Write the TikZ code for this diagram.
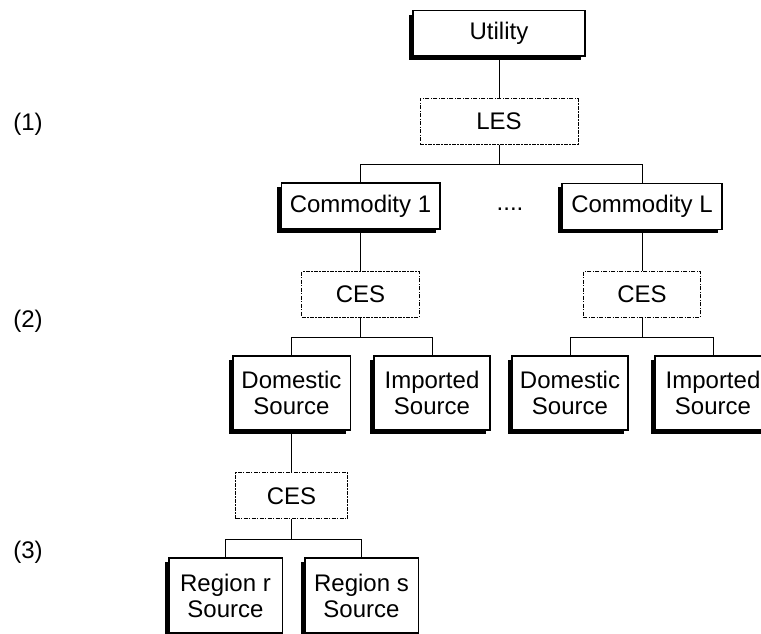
\documentclass[tikz,border=0pt]{standalone}
\usepackage{fontspec}
\setmainfont{Liberation Sans}
\usetikzlibrary{shadows}

\tikzset{
  solidbox/.style={draw, fill=white, line width=1pt, inner sep=0pt, align=center,
    drop shadow={shadow xshift=-3pt, shadow yshift=-3pt, fill=black, opacity=1}},
  cesbox/.style={draw, fill=white, line width=0.75pt, inner sep=0pt, align=center,
    dash pattern=on 3pt off 1pt on 1pt off 1pt},
  link/.style={line width=0.75pt}
}

\begin{document}
\begin{tikzpicture}[x=0.75pt,y=-0.75pt,font=\fontsize{18}{19.5}\selectfont]

\useasboundingbox (0,0) rectangle (761,634);

\node [solidbox, minimum width=129pt, minimum height=34pt] (util) at (499,33.5) {Utility};
\node [cesbox, minimum width=118.5pt, minimum height=34pt] (les) at (499,121.5) {LES};
\node [solidbox, minimum width=119pt, minimum height=34.5pt] (com1) at (360.5,206) {Commodity 1};
\node [solidbox, minimum width=120pt, minimum height=34.5pt] (comL) at (642,206.5) {Commodity L};
\node [inner sep=0pt] (dots) at (510,209) {....};

\node [cesbox, minimum width=88pt, minimum height=34pt] (ces1) at (360.5,294.5) {CES};
\node [cesbox, minimum width=88pt, minimum height=34pt] (cesL) at (642,294.5) {CES};

\node [solidbox, minimum width=88pt, minimum height=55.5pt] (dom1) at (291.5,393) {Domestic\\Source};
\node [solidbox, minimum width=87pt, minimum height=55.5pt] (imp1) at (432,393) {Imported\\Source};
\node [solidbox, minimum width=87pt, minimum height=55.5pt] (domL) at (570,393) {Domestic\\Source};
\node [solidbox, minimum width=87pt, minimum height=55.5pt] (impL) at (713,393) {Imported\\Source};

\node [cesbox, minimum width=84pt, minimum height=34.5pt] (ces2) at (291.5,496) {CES};
\node [solidbox, minimum width=85pt, minimum height=56pt] (regr) at (225.5,595.5) {Region r\\Source};
\node [solidbox, minimum width=85pt, minimum height=56pt] (regs) at (361.5,595.5) {Region s\\Source};

\node (lev1) at (28,124) {(1)};
\node (lev2) at (28,321) {(2)};
\node (lev3) at (28,552) {(3)};

\draw [link] (util) -- (les);
\draw [link] (les.south) -- ++(0,20) -| (com1.north);
\draw [link] (les.south) -- ++(0,20) -| (comL.north);
\draw [link] (com1) -- (ces1);
\draw [link] (comL) -- (cesL);
\draw [link] (ces1.south) -- ++(0,20) -| (dom1.north);
\draw [link] (ces1.south) -- ++(0,20) -| (imp1.north);
\draw [link] (cesL.south) -- ++(0,20) -| (domL.north);
\draw [link] (cesL.south) -- ++(0,20) -| (impL.north);
\draw [link] (dom1.south) -- (dom1.south |- ces2.north);
\draw [link] (ces2.south) -- ++(0,20) -| (regr.north);
\draw [link] (ces2.south) -- ++(0,20) -| (regs.north);

\end{tikzpicture}
\end{document}
